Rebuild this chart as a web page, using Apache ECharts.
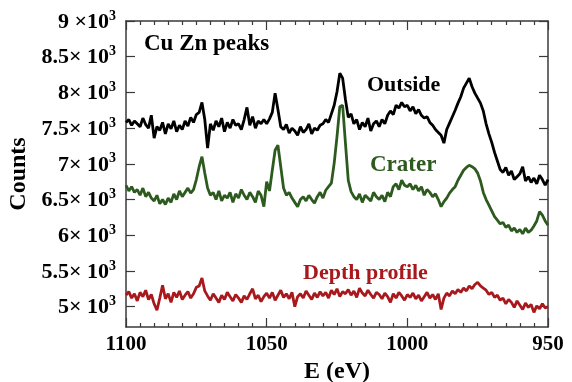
<!DOCTYPE html>
<html>
<head>
<meta charset="utf-8">
<script src="https://cdn.jsdelivr.net/npm/echarts@6/dist/echarts.min.js"></script>
<style>
  html, body { margin: 0; padding: 0; background: #fff; }
  #chart { width: 572px; height: 382px; }
</style>
</head>
<body>
<div id="chart"></div>
<script>
// energy grid: 1100 eV down to 950 eV, one point per eV
const eStart = 1100;
const eStep = -1;

// counts
const outside = [
  7580, 7620, 7540, 7600, 7560, 7520, 7640, 7550, 7500, 7680,
  7360, 7520, 7470, 7580, 7420, 7560, 7490, 7600, 7450, 7540,
  7480, 7600, 7530, 7650, 7580, 7690, 7720, 7860, 7620, 7220,
  7560, 7470, 7600, 7520, 7640, 7450, 7580, 7500, 7620, 7540,
  7560, 7480, 7620, 7790, 7540, 7660, 7500, 7600, 7560, 7620,
  7560, 7630, 7720, 7990, 7760, 7520, 7480, 7550, 7430, 7500,
  7460, 7400, 7520, 7440, 7480, 7560, 7420, 7500, 7470, 7540,
  7560, 7620, 7580, 7700, 7820, 8010, 8270, 8200, 7900, 7650,
  7700, 7560, 7620, 7480, 7580, 7520, 7640, 7460, 7560, 7600,
  7520, 7620, 7560, 7680, 7740, 7690, 7820, 7780, 7860, 7800,
  7820, 7740, 7800, 7700, 7760, 7680, 7640, 7660, 7580, 7540,
  7480, 7440, 7400, 7290, 7480, 7570, 7660, 7750, 7850, 7940,
  8060, 8130, 8200, 8080, 7990, 7920, 7850, 7740, 7560, 7420,
  7300, 7160, 7040, 6920, 6880, 6950, 6840, 6900, 6780, 6820,
  6860, 6960, 6760, 6820, 6740, 6800, 6720, 6840, 6780, 6700,
  6780
];
const crater = [
  6700, 6620, 6680, 6600, 6640, 6560, 6660, 6540, 6600, 6520,
  6480, 6560, 6440, 6500, 6430, 6520, 6460, 6580, 6500, 6620,
  6540, 6600, 6660, 6590, 6640, 6780, 6960, 7100, 6870, 6660,
  6560, 6600, 6500, 6620, 6480, 6560, 6520, 6600, 6460, 6580,
  6520, 6640, 6560, 6500, 6600, 6540, 6460, 6620, 6560, 6400,
  6750, 6620, 6910, 7190, 7260, 6960, 6660, 6560, 6600, 6520,
  6460, 6400, 6500, 6540, 6480, 6560, 6500, 6450, 6540, 6600,
  6520, 6630, 6680, 6730, 7010, 7380, 7800, 7820, 7290, 6770,
  6610, 6540, 6500, 6580, 6460, 6560, 6520, 6480, 6600, 6540,
  6500, 6560, 6470, 6600, 6540, 6680, 6720, 6640, 6770, 6700,
  6680, 6720, 6640, 6700, 6620, 6680, 6560, 6640, 6600, 6540,
  6580, 6500, 6400, 6470, 6520, 6590, 6640, 6680, 6770, 6840,
  6910, 6950, 6980, 6960, 6930, 6870, 6760, 6600, 6500, 6420,
  6340, 6260, 6210, 6160, 6180, 6110, 6140, 6060, 6100, 6040,
  6080, 6020, 6100, 6040, 6070, 6130, 6200, 6330, 6280, 6200,
  6140
];
const depthProfile = [
  5160, 5210, 5120, 5180, 5080, 5200, 5140, 5230, 5100, 5170,
  5040, 4950, 5120, 5300, 5110, 5180, 5060, 5200, 5130, 5220,
  5100, 5160, 5210, 5120, 5180, 5270, 5290, 5400, 5220, 5150,
  5090, 5180, 5120, 5060, 5160, 5100, 5200, 5140, 5080, 5170,
  5120, 5060, 5150, 5100, 5180, 5250, 5110, 5160, 5070, 5140,
  5190, 5120, 5200, 5090, 5160, 5230, 5130, 5180, 5110, 5200,
  5000, 5140, 5180, 5120, 5220, 5160, 5100, 5190, 5130, 5210,
  5150, 5200, 5120, 5230, 5170, 5250, 5140, 5210, 5180, 5240,
  5160, 5220, 5130, 5260, 5190, 5150, 5230, 5170, 5120, 5200,
  5170, 5110, 5190, 5140, 5060, 5180, 5120, 5200, 5150, 5090,
  5170, 5130, 5190, 5110, 5160, 5080, 5140, 5200, 5120, 5170,
  5100, 5180, 4960, 5120, 5190, 5150, 5220, 5180, 5240, 5200,
  5260, 5220, 5290, 5250, 5310, 5340, 5290, 5260, 5230, 5170,
  5200, 5130, 5160, 5090, 5120, 5040, 5100, 5060, 4990, 5080,
  5020, 4960, 5050, 4990, 5030, 4920, 5010, 4970, 5040, 4980,
  5000
];

const yTicks = [5000, 5500, 6000, 6500, 7000, 7500, 8000, 8500, 9000];
const xTicks = [1100, 1050, 1000, 950];

const FONT = "'Liberation Serif', 'DejaVu Serif', serif";
const AXIS_COLOR = '#3a3a3a';

function toPairs(list) {
  return list.map((v, i) => [eStart + i * eStep, v]);
}

function yLabel(v) {
  if (v === 9000) return '{b|9 \u00d710}{s|3}';
  return '{b|' + (v / 1000) + '\u00d7 10}{s|3}';
}

const chart = echarts.init(document.getElementById('chart'));

const xBase = {
  type: 'value',
  min: 950,
  max: 1100,
  interval: 50,
  inverse: true,
  axisLine: { onZero: false, lineStyle: { color: AXIS_COLOR, width: 1.5 } },
  axisTick: { inside: true, length: 9, lineStyle: { color: AXIS_COLOR, width: 1.2 } },
  minorTick: { show: true, splitNumber: 10, length: 4, lineStyle: { color: AXIS_COLOR, width: 1.2 } },
  splitLine: { show: false },
};

const yBase = {
  type: 'value',
  min: 4715,
  max: 9000,
  axisLine: { show: true, onZero: false, lineStyle: { color: AXIS_COLOR, width: 1.5 } },
  axisTick: { show: true, inside: true, length: 9, customValues: yTicks, lineStyle: { color: AXIS_COLOR, width: 1.2 } },
  splitLine: { show: false },
};

const option = {
  animation: false,
  backgroundColor: '#ffffff',
  grid: { left: 126, right: 24, top: 21, bottom: 55, containLabel: false, outerBoundsMode: 'none' },
  xAxis: [
    Object.assign({}, xBase, {
      position: 'bottom',
      name: 'E (eV)',
      nameLocation: 'middle',
      nameGap: 24,
      nameTextStyle: { fontFamily: FONT, fontWeight: 'bold', fontSize: 24, color: '#000', verticalAlign: 'top' },
      axisLabel: {
        customValues: xTicks,
        margin: 7,
        formatter: v => String(v),
        fontFamily: FONT, fontWeight: 'bold', fontSize: 21, color: '#000',
      },
    }),
    Object.assign({}, xBase, {
      position: 'top',
      axisLabel: { show: false },
    }),
  ],
  yAxis: [
    Object.assign({}, yBase, {
      position: 'left',
      name: 'Counts',
      nameLocation: 'middle',
      nameGap: 88,
      nameRotate: 90,
      nameTextStyle: { fontFamily: FONT, fontWeight: 'bold', fontSize: 24, color: '#000' },
      axisLabel: {
        customValues: yTicks,
        margin: 10,
        formatter: yLabel,
        rich: {
          b: { fontFamily: FONT, fontWeight: 'bold', fontSize: 22, color: '#000', lineHeight: 24, verticalAlign: 'bottom' },
          s: { fontFamily: FONT, fontWeight: 'bold', fontSize: 14, color: '#000', lineHeight: 14, verticalAlign: 'top' },
        },
      },
    }),
    Object.assign({}, yBase, {
      position: 'right',
      axisLabel: { show: false },
    }),
  ],
  series: [
    {
      name: 'Outside',
      type: 'line',
      data: toPairs(outside),
      showSymbol: false,
      lineStyle: { color: '#000000', width: 2.8 },
      itemStyle: { color: '#000000' },
    },
    {
      name: 'Crater',
      type: 'line',
      data: toPairs(crater),
      showSymbol: false,
      lineStyle: { color: '#2d5a1e', width: 2.8 },
      itemStyle: { color: '#2d5a1e' },
    },
    {
      name: 'Depth profile',
      type: 'line',
      data: toPairs(depthProfile),
      showSymbol: false,
      lineStyle: { color: '#a8191e', width: 2.8 },
      itemStyle: { color: '#a8191e' },
    },
  ],
  graphic: [
    { type: 'text', left: 144, top: 33, style: { text: 'Cu Zn peaks', fill: '#000', font: 'bold 23px ' + FONT } },
    { type: 'text', left: 367, top: 74, style: { text: 'Outside', fill: '#000', font: 'bold 22px ' + FONT } },
    { type: 'text', left: 370, top: 154, style: { text: 'Crater', fill: '#2d5a1e', font: 'bold 23px ' + FONT } },
    { type: 'text', left: 303, top: 262, style: { text: 'Depth profile', fill: '#a8191e', font: 'bold 22px ' + FONT } },
  ],
};

chart.setOption(option);
</script>
</body>
</html>
